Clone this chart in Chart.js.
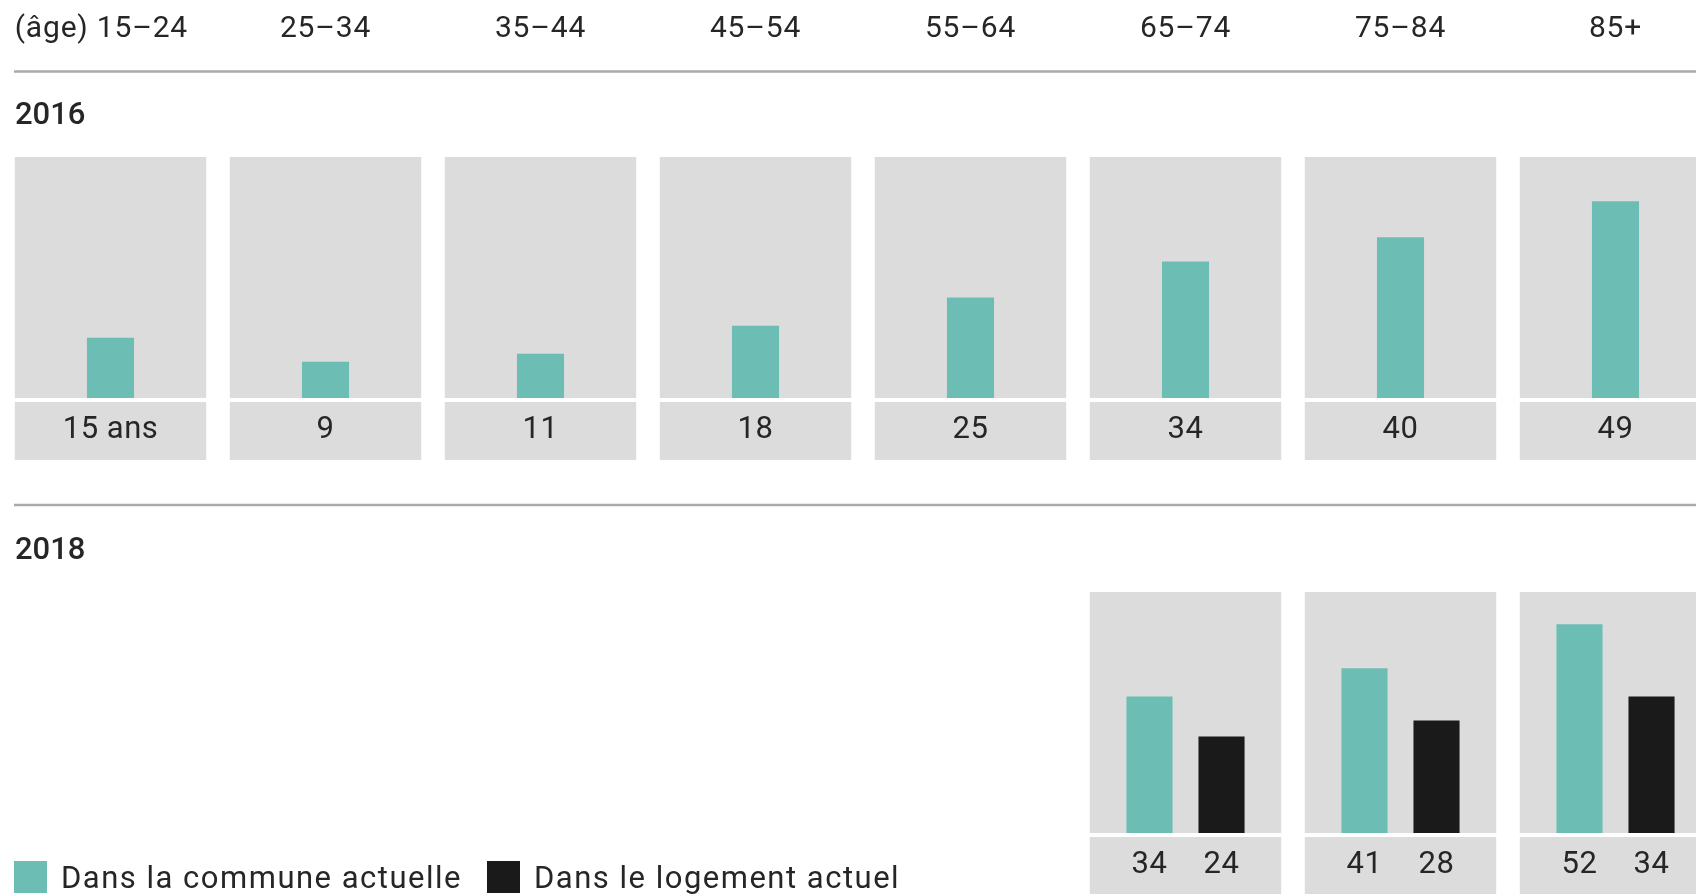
<!DOCTYPE html>
<html lang="fr">
<head>
<meta charset="utf-8">
<title>Ancienneté dans la commune et dans le logement</title>
<script src="https://cdn.jsdelivr.net/npm/chart.js@4"></script>
<style>
  html, body { margin: 0; padding: 0; background: #fff; overflow: hidden; }
  #page { position: relative; width: 1696px; height: 894px; overflow: hidden; }
  canvas { position: absolute; left: 0; }
</style>
</head>
<body>
<div id="page">
  <canvas id="chart2016" width="1740" height="470" style="top:0"></canvas>
  <canvas id="chart2018" width="1740" height="424" style="top:470px"></canvas>
</div>
<script>
// Données
var tranchesAge = ['15–24', '25–34', '35–44', '45–54', '55–64', '65–74', '75–84', '85+'];
var prefixeAge = '(âge) ';
var commune2016 = [15, 9, 11, 18, 25, 34, 40, 49];
var commune2018 = [null, null, null, null, null, 34, 41, 52];
var logement2018 = [null, null, null, null, null, 24, 28, 34];
var serieLabels = ['Dans la commune actuelle', 'Dans le logement actuel'];
var annees = ['2016', '2018'];

var TURQUOISE = '#6cbdb3';
var NOIR = '#1a1a1a';
var GRIS = '#dddcdc';
var TRAIT = '#aaaaaa';
var TEXTE = '#262626';
var POLICE = 'Roboto, "Noto Sans", sans-serif';
var DEMI_PANNEAU = 95.7;

// une case est dessinée seulement si une série a une valeur à cet âge
function aDesDonnees(chart, i) {
    return chart.data.datasets.some(function (ds) {
        return ds.data[i] !== null && ds.data[i] !== undefined;
    });
}

// panneaux gris derrière les barres + cases des valeurs
var panneauxPlugin = {
    id: 'panneaux',
    beforeDatasetsDraw: function (chart) {
        var ctx = chart.ctx;
        var zone = chart.chartArea;
        var x = chart.scales.x;
        ctx.save();
        ctx.fillStyle = GRIS;
        for (var i = 0; i < chart.data.labels.length; i++) {
            if (!aDesDonnees(chart, i)) continue;
            var cx = x.getPixelForValue(i);
            ctx.fillRect(cx - DEMI_PANNEAU, zone.top, DEMI_PANNEAU * 2, zone.bottom - zone.top);
            ctx.fillRect(cx - DEMI_PANNEAU, zone.bottom + 4, DEMI_PANNEAU * 2, 58);
        }
        ctx.restore();
    },
    afterDatasetsDraw: function (chart) {
        var ctx = chart.ctx;
        var zone = chart.chartArea;
        var x = chart.scales.x;
        ctx.save();
        ctx.fillStyle = TEXTE;
        ctx.font = '31px ' + POLICE;
        ctx.letterSpacing = '0.5px';
        ctx.textAlign = 'center';
        ctx.textBaseline = 'alphabetic';
        var nb = chart.data.datasets.length;
        chart.data.datasets.forEach(function (ds, d) {
            var meta = chart.getDatasetMeta(d);
            ds.data.forEach(function (v, i) {
                if (v === null) return;
                var px = nb === 1 ? x.getPixelForValue(i) : meta.data[i].x;
                var txt = String(v);
                if (nb === 1 && i === 0) txt = v + ' ans';
                ctx.fillText(txt, px, zone.bottom + 40);
            });
        });
        ctx.restore();
    }
};

// titre de l'année et trait horizontal au-dessus
var anneePlugin = {
    id: 'annee',
    afterDraw: function (chart, args, opts) {
        var ctx = chart.ctx;
        ctx.save();
        ctx.strokeStyle = TRAIT;
        ctx.lineWidth = 2.5;
        ctx.beginPath();
        ctx.moveTo(14, opts.yTrait);
        ctx.lineTo(chart.width, opts.yTrait);
        ctx.stroke();
        ctx.fillStyle = TEXTE;
        ctx.font = '500 31px ' + POLICE;
        ctx.textAlign = 'left';
        ctx.fillText(opts.texte, 15, opts.yTexte);
        ctx.restore();
    }
};

// tranches d'âge en tête du graphique 2016
var enTetePlugin = {
    id: 'enTete',
    afterDraw: function (chart, args, opts) {
        if (!opts.actif) return;
        var ctx = chart.ctx;
        var x = chart.scales.x;
        ctx.save();
        ctx.fillStyle = TEXTE;
        ctx.font = '30px ' + POLICE;
        ctx.letterSpacing = '0.8px';
        chart.data.labels.forEach(function (lab, i) {
            var cx = x.getPixelForValue(i);
            if (i === 0) {
                ctx.textAlign = 'left';
                ctx.fillText(prefixeAge + lab, cx - DEMI_PANNEAU, 37);
            } else {
                ctx.textAlign = 'center';
                ctx.fillText(lab, cx, 37);
            }
        });
        ctx.restore();
    }
};

// légende en bas à gauche
var legendePlugin = {
    id: 'legendeBas',
    afterDraw: function (chart, args, opts) {
        if (!opts.actif) return;
        var ctx = chart.ctx;
        ctx.save();
        ctx.font = '31px ' + POLICE;
        ctx.letterSpacing = '1.5px';
        ctx.textAlign = 'left';
        var px = 14;
        chart.data.datasets.forEach(function (ds) {
            ctx.fillStyle = ds.backgroundColor;
            ctx.fillRect(px, opts.y, 33, 32);
            ctx.fillStyle = TEXTE;
            ctx.fillText(ds.label, px + 47, opts.y + 27);
            px += 47 + ctx.measureText(ds.label).width + 25;
        });
        ctx.restore();
    }
};

function optionsCommunes(padHaut, padBas, extra) {
    return {
        responsive: false,
        animation: false,
        layout: { padding: { left: 3, right: 17, top: padHaut, bottom: padBas } },
        scales: {
            x: { display: false },
            y: { display: false, min: 0, max: 60 }
        },
        plugins: Object.assign({
            legend: { display: false },
            tooltip: { enabled: false }
        }, extra)
    };
}

new Chart(document.getElementById('chart2016').getContext('2d'), {
    type: 'bar',
    data: {
        labels: tranchesAge,
        datasets: [{
            label: serieLabels[0],
            data: commune2016,
            backgroundColor: TURQUOISE,
            categoryPercentage: 1,
            barPercentage: 0.219
        }]
    },
    options: optionsCommunes(157, 72, {
        annee: { texte: annees[0], yTrait: 71.5, yTexte: 124 },
        enTete: { actif: true },
        legendeBas: { actif: false }
    }),
    plugins: [panneauxPlugin, anneePlugin, enTetePlugin, legendePlugin]
});

new Chart(document.getElementById('chart2018').getContext('2d'), {
    type: 'bar',
    data: {
        labels: tranchesAge,
        datasets: [{
            label: serieLabels[0],
            data: commune2018,
            backgroundColor: TURQUOISE,
            categoryPercentage: 0.67,
            barPercentage: 0.64
        }, {
            label: serieLabels[1],
            data: logement2018,
            backgroundColor: NOIR,
            categoryPercentage: 0.67,
            barPercentage: 0.64
        }]
    },
    options: optionsCommunes(122, 61, {
        annee: { texte: annees[1], yTrait: 35, yTexte: 89 },
        enTete: { actif: false },
        legendeBas: { actif: true, y: 391 }
    }),
    plugins: [panneauxPlugin, anneePlugin, enTetePlugin, legendePlugin]
});
</script>
</body>
</html>
